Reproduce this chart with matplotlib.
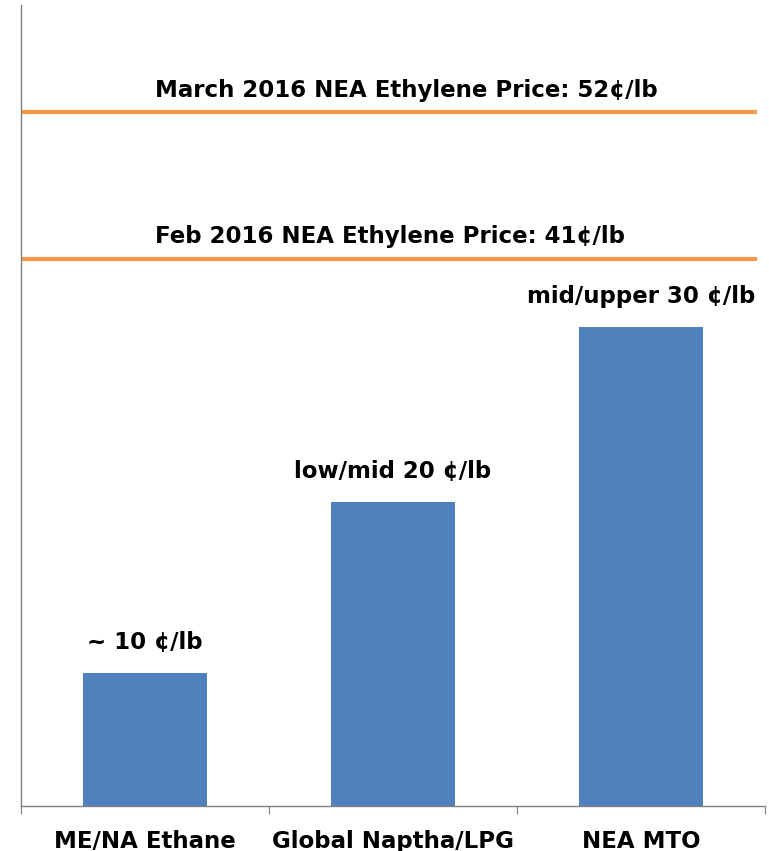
import matplotlib.pyplot as plt

categories = ['ME/NA Ethane', 'Global Naptha/LPG', 'NEA MTO']
costs = [10, 22.8, 35.9]
bar_labels = ['~ 10 \u00a2/lb', 'low/mid 20 \u00a2/lb', 'mid/upper 30 \u00a2/lb']
price_levels = [52, 41]
price_labels = ['March 2016 NEA Ethylene Price: 52\u00a2/lb',
                'Feb 2016 NEA Ethylene Price: 41\u00a2/lb']

plt.rcParams['font.family'] = ['DejaVu Sans']
fs = 16.5

fig = plt.figure(figsize=(7.69, 8.51), dpi=100)
ax = fig.add_axes([21 / 769, 45 / 851, 744 / 769, 801 / 851])

x = list(range(len(categories)))
bars = ax.bar(x, costs, width=0.5, color='#4F81BD')
ax.set_xlim(-0.5, len(categories) - 0.5)
ax.set_ylim(0, 60)

for b, lab in zip(bars, bar_labels):
    ax.annotate(lab, (b.get_x() + b.get_width() / 2, b.get_height()),
                xytext=(0, 17), textcoords='offset points',
                ha='center', va='baseline', fontsize=fs, fontweight='bold')

for lvl, lab in zip(price_levels, price_labels):
    ax.annotate(lab, (0, lvl), xycoords=('axes fraction', 'data'),
                xytext=(134 / 100 * 72, 11), textcoords='offset points',
                ha='left', va='baseline', fontsize=fs, fontweight='bold')
    ax.axhline(lvl, xmin=0, xmax=0.987, color='#F79646', lw=3)

ax.set_xticks([i - 0.5 for i in range(len(categories) + 1)], minor=False)
ax.set_xticklabels([])
ax.set_xticks(x, minor=True)
ax.set_xticklabels(categories, minor=True, fontsize=fs, fontweight='bold')
ax.tick_params(axis='x', which='major', length=6, color='#808080', direction='out')
ax.tick_params(axis='x', which='minor', length=0, pad=17)
ax.set_yticks([])

for s in ['top', 'right']:
    ax.spines[s].set_visible(False)
for s in ['left', 'bottom']:
    ax.spines[s].set_color('#808080')
    ax.spines[s].set_linewidth(1)

fig.savefig('out.png', dpi=100)
